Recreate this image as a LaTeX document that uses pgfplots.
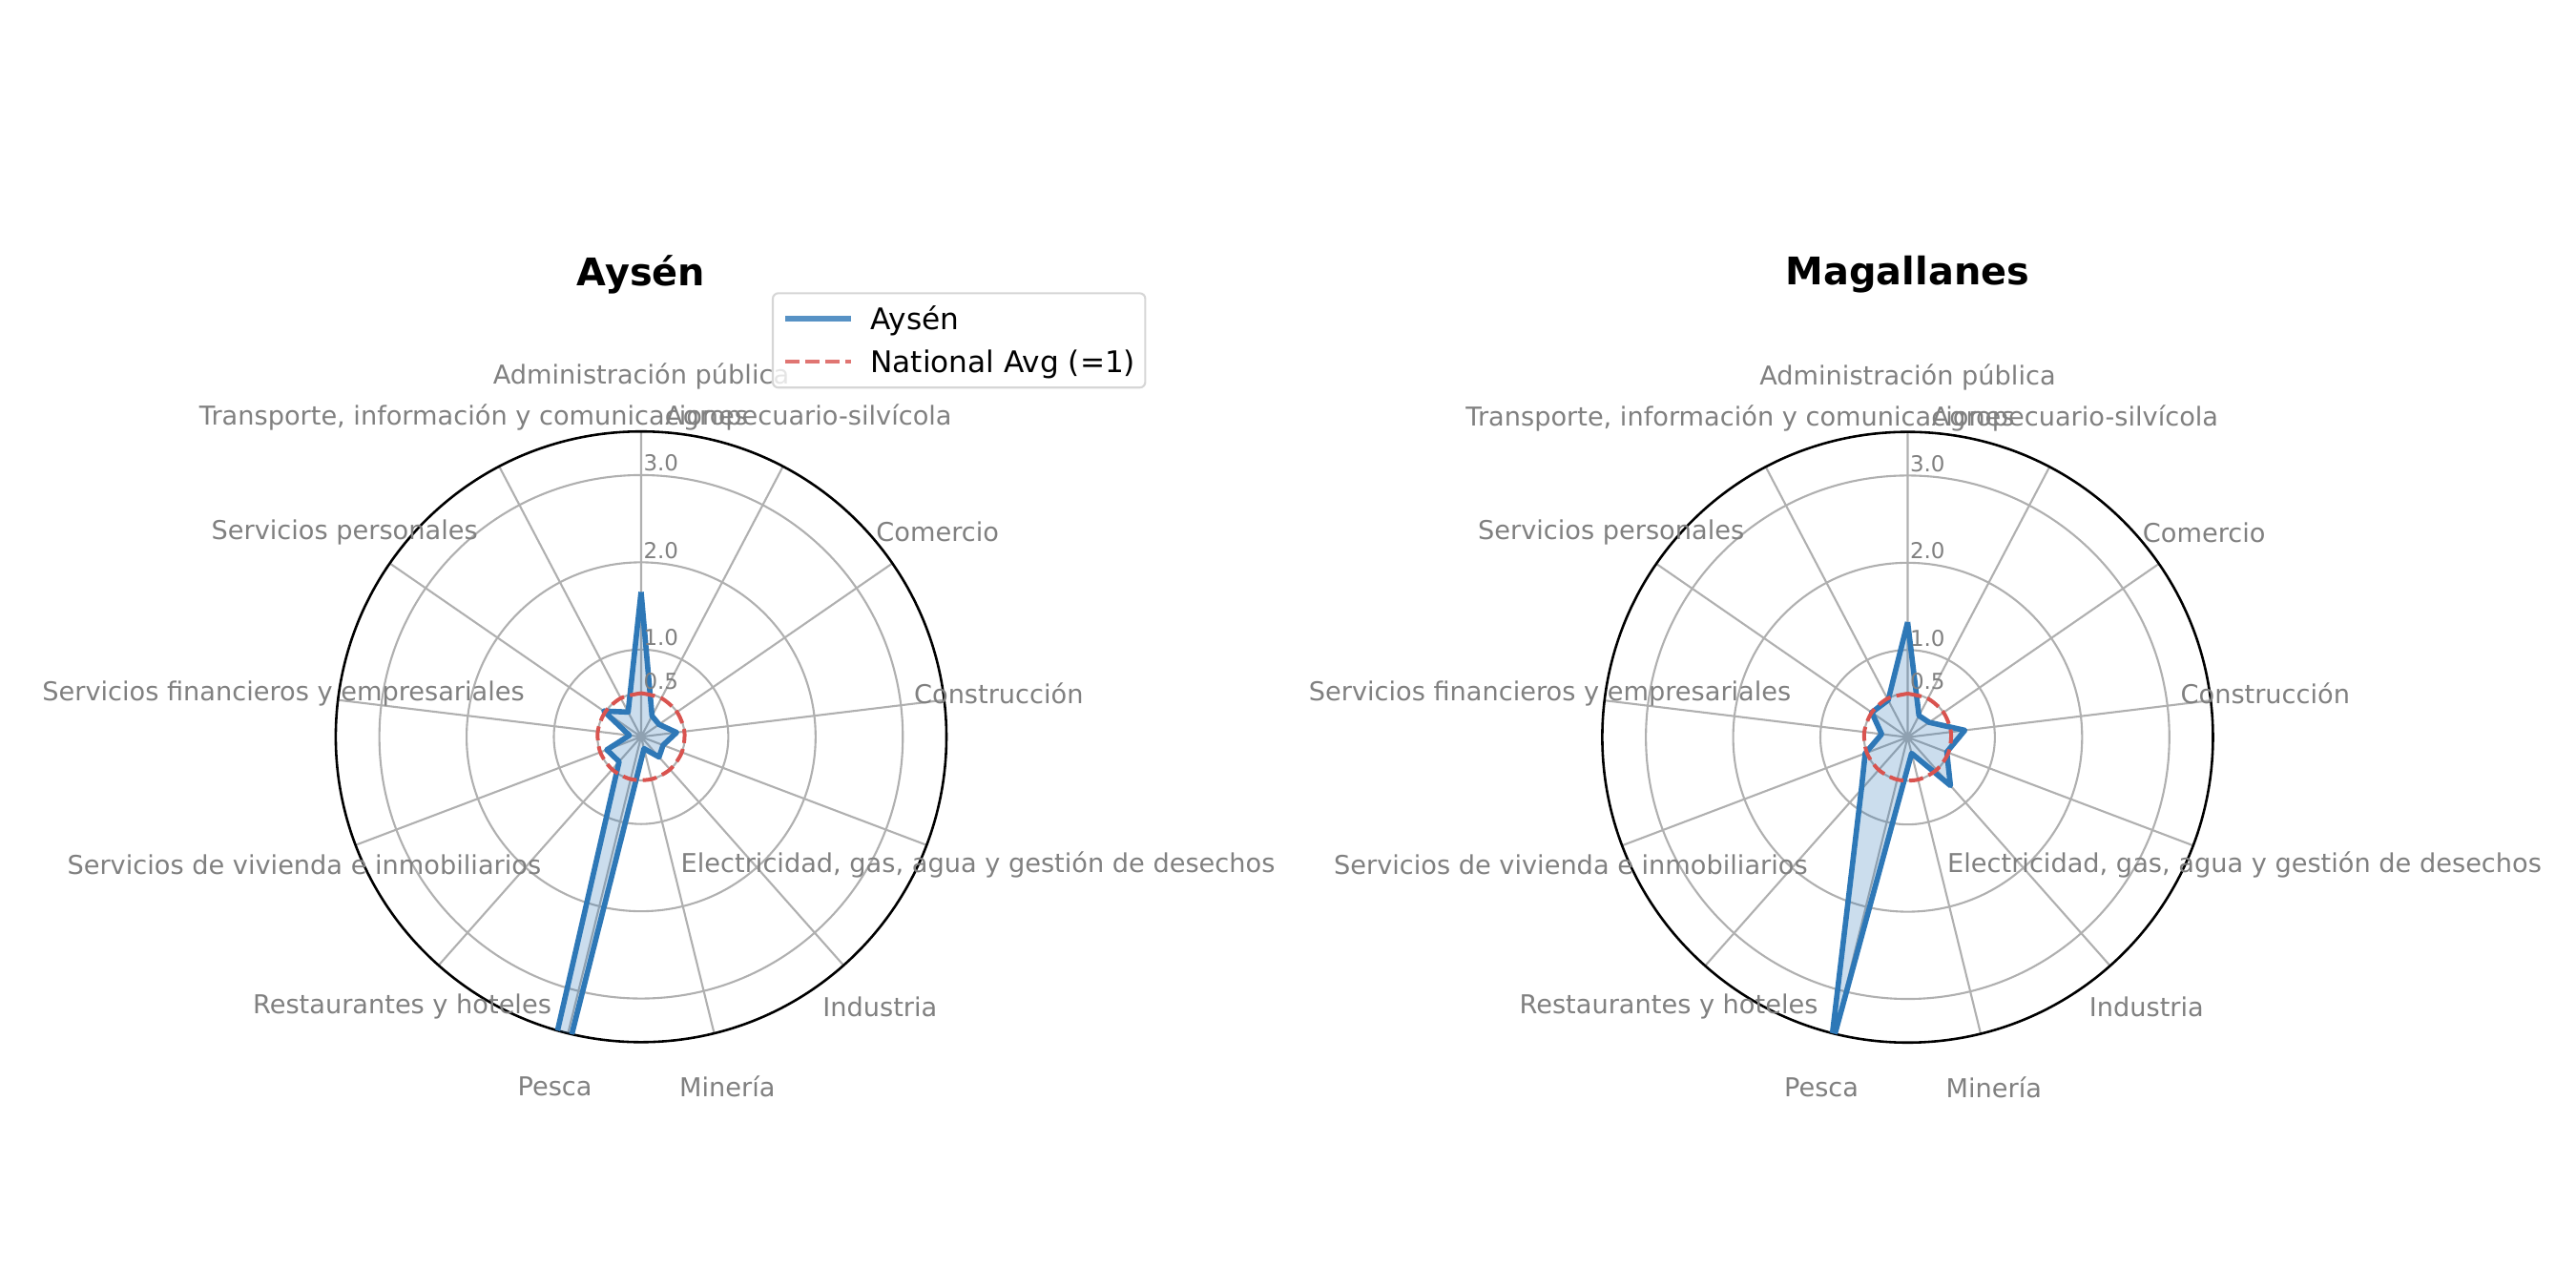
\documentclass[border=0pt]{standalone}
\usepackage{fontspec}
\setmainfont{DejaVu Sans}
\usepackage{pgfplots}
\usepackage{pgfplotstable}
\pgfplotsset{compat=1.18}
\usepgfplotslibrary{polar}

\definecolor{lineblue}{HTML}{2E78B7}
\definecolor{avgred}{HTML}{D9534F}
\definecolor{gridgray}{HTML}{B0B0B0}
\definecolor{labelgray}{HTML}{808080}

% sector values as drawn on the radial axis; cat 13 closes the polygon
\pgfplotstableread{
cat val
0  1.66
1  0.27
2  0.25
3  0.41
4  0.27
5  0.31
6  0.14
7  11.0
8  0.38
9  0.42
10 0.135
11 0.52
12 0.32
13 1.66
}\aysen

\pgfplotstableread{
cat val
0  1.32
1  0.28
2  0.30
3  0.66
4  0.48
5  0.74
6  0.19
7  3.7
8  0.80
9  0.52
10 0.30
11 0.50
12 0.48
13 1.32
}\magallanes

\pgfplotstableread{
cat val
0  0.5
1  0.5
2  0.5
3  0.5
4  0.5
5  0.5
6  0.5
7  0.5
8  0.5
9  0.5
10 0.5
11 0.5
12 0.5
13 0.5
}\national

\pgfplotsset{
  radar/.style={
    width=273.1pt, height=273.1pt, scale only axis,
    anchor=center,
    xmin=0, xmax=360, ymin=0, ymax=3.5,
    xtick={90,62.3077,34.6154,6.9231,339.2308,311.5385,283.8462,256.1538,228.4615,200.7692,173.0769,145.3846,117.6923},
    ytick={0.5,1,2,3},
    xticklabels={}, yticklabels={},
    major tick length=0pt,
    grid=major,
    major grid style={gridgray, line width=0.9pt},
    axis line style={black, line width=1.1pt},
    y axis line style={draw=none},
    clip mode=individual,
  },
  region/.style={lineblue, line width=2.4pt, line join=round, fill=lineblue, fill opacity=0.25},
  avg/.style={avgred, line width=1.7pt, dash pattern=on 6.3pt off 2.7pt, smooth},
}

\newcommand\sectorlabels{%
  \node[catlabel] at (axis cs:90,4.13) {Administración pública};
  \node[catlabel] at (axis cs:62.3077,4.13) {Agropecuario-silvícola};
  \node[catlabel] at (axis cs:34.6154,4.13) {Comercio};
  \node[catlabel] at (axis cs:6.9231,4.13) {Construcción};
  \node[catlabel] at (axis cs:-20.7692,4.13) {Electricidad, gas, agua y gestión de desechos};
  \node[catlabel] at (axis cs:-48.4615,4.13) {Industria};
  \node[catlabel] at (axis cs:-76.1538,4.13) {Minería};
  \node[catlabel] at (axis cs:-103.8462,4.13) {Pesca};
  \node[catlabel] at (axis cs:-131.5385,4.13) {Restaurantes y hoteles};
  \node[catlabel] at (axis cs:-159.2308,4.13) {Servicios de vivienda e inmobiliarios};
  \node[catlabel] at (axis cs:-186.9231,4.13) {Servicios financieros y empresariales};
  \node[catlabel] at (axis cs:-214.6154,4.13) {Servicios personales};
  \node[catlabel] at (axis cs:-242.3077,4.13) {Transporte, información y comunicaciones};
  \node[rlabel] at (axis cs:90,0.5) {0.5};
  \node[rlabel] at (axis cs:90,1) {1.0};
  \node[rlabel] at (axis cs:90,2) {2.0};
  \node[rlabel] at (axis cs:90,3) {3.0};
}

\begin{document}
\begin{tikzpicture}[
  catlabel/.style={anchor=center, inner sep=0pt, text=labelgray, font=\fontsize{11.6}{13}\selectfont},
  rlabel/.style={anchor=west, inner sep=0pt, xshift=0.9pt, yshift=5.3pt, text=labelgray, font=\fontsize{9.8}{11}\selectfont},
]
\useasboundingbox (0,0) rectangle (1152pt,576pt);

\begin{polaraxis}[radar, at={(286.7pt,246.5pt)},
  legend style={at={(0.714,1.228)}, anchor=north west, draw=black!20, line width=0.9pt,
    rounded corners=2.5pt, fill=white, fill opacity=0.8, draw opacity=0.8, text opacity=1,
    inner xsep=4.4pt, inner ysep=6.6pt, row sep=9.6pt, column sep=7.5pt,
    font=\fontsize{13.3}{15}\selectfont,
    nodes={inner sep=0pt, text height=9.7pt, text depth=0pt}},
  legend cell align=left,
  legend image code/.code={\draw[#1, fill=none] (0pt,0pt) -- (29.4pt,0pt);},
]
\addplot[region] table[x expr={90-\thisrow{cat}*360/13}, y=val] {\aysen};
\addlegendentry{Aysén}
\addplot[avg] table[x expr={90-\thisrow{cat}*360/13}, y=val] {\national};
\addlegendentry{National Avg (=1)}
\sectorlabels
\end{polaraxis}

\begin{polaraxis}[radar, at={(853.1pt,246.3pt)}]
\addplot[region] table[x expr={90-\thisrow{cat}*360/13}, y=val] {\magallanes};
\addplot[avg] table[x expr={90-\thisrow{cat}*360/13}, y=val] {\national};
\sectorlabels
\end{polaraxis}

\node[font=\bfseries\fontsize{17}{20}\selectfont] at (286.7pt,453.1pt) {Aysén};
\node[font=\bfseries\fontsize{17}{20}\selectfont] at (853.1pt,453.1pt) {Magallanes};
\end{tikzpicture}
\end{document}
